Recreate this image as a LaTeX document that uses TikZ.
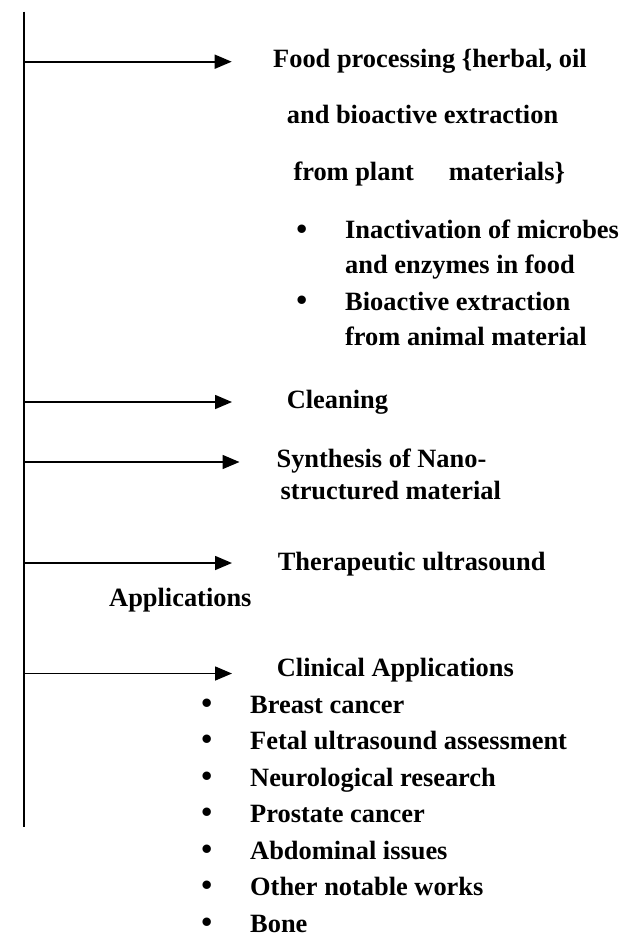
\documentclass[tikz,border=0pt]{standalone}
\usepackage{fontspec}
\setmainfont{Liberation Serif}
\usetikzlibrary{arrows.meta}
\begin{document}
\begin{tikzpicture}[x=1pt,y=-1pt,
  lbl/.style={anchor=base west,inner sep=0pt,font=\fontsize{26.4}{30}\selectfont\bfseries},
  bul/.style={anchor=base,inner sep=0pt,font=\fontsize{31}{34}\selectfont\bfseries},
  spine/.style={line width=1.8pt},
  arr/.style={line width=1.6pt,-{Triangle[length=17pt,width=14pt]}}]
\useasboundingbox (0,0) rectangle (637,940);
% spine
\coordinate (top) at (24,11.7);
\coordinate (bot) at (24,827);
\draw[spine] (top) -- (bot);
% branch points and tips
\coordinate (s1) at (24,61.7);  \coordinate (t1) at (231.7,61.7);
\coordinate (s2) at (24,402);   \coordinate (t2) at (232,402);
\coordinate (s3) at (24,462);   \coordinate (t3) at (239.5,462);
\coordinate (s4) at (24,563);   \coordinate (t4) at (232,563);
\coordinate (s5) at (24,673.5); \coordinate (t5) at (232,673.5);
\draw[arr] (s1) -- (t1);
\draw[arr] (s2) -- (t2);
\draw[arr] (s3) -- (t3);
\draw[arr] (s4) -- (t4);
\draw[arr] (s5) -- (t5);
% food processing
\node[lbl] (f1) at (273,67) {Food processing \{herbal, oil};
\node[lbl] (f2) at (286.7,123.3) {and bioactive extraction};
\node[lbl] (f3) at (293.3,180) {from plant\hspace{35pt}materials\}};
\node[bul] (fb1) at (301.7,239) {•};
\node[lbl] (f4) at (345,238.3) {Inactivation of microbes};
\node[lbl] (f5) at (345,273.3) {and enzymes in food};
\node[bul] (fb2) at (301.7,310.7) {•};
\node[lbl] (f6) at (345,310) {Bioactive extraction};
\node[lbl] (f7) at (345,345) {from animal material};
% cleaning
\node[lbl] (c1) at (286.6,408.3) {Cleaning};
% synthesis
\node[lbl] (n1) at (276.4,467.3) {Synthesis of Nano-};
\node[lbl] (n2) at (280.5,499) {structured material};
% therapeutic
\node[lbl] (th1) at (277.6,570) {Therapeutic ultrasound};
\node[lbl] (th2) at (109,606.7) {Applications};
% clinical
\node[lbl] (cl) at (276.7,676.7) {Clinical Applications};
\foreach \y/\t [count=\i] in {713/Breast cancer,749.5/Fetal ultrasound assessment,786/Neurological research,822.5/Prostate cancer,859/Abdominal issues,895.5/Other notable works,932/Bone}{
  \node[bul] (cb\i) at (206.7,\y) {•};
  \node[lbl] (ci\i) at (250,\y) {\t};
}
\end{tikzpicture}
\end{document}
